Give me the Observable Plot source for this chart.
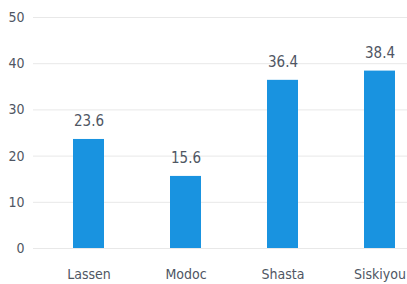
<!DOCTYPE html>
<html><head><meta charset="utf-8">
<script src="https://cdn.jsdelivr.net/npm/d3@7"></script>
<script src="https://cdn.jsdelivr.net/npm/@observablehq/plot@0.6"></script>
<style>
html,body{margin:0;padding:0;background:#fff;}
svg{font-family:"DejaVu Sans Condensed",sans-serif;}
</style>
</head><body>
<div id="chart"></div>
<script>
const counties = ["Lassen", "Modoc", "Shasta", "Siskiyou"];
const values = [23.6, 15.6, 36.4, 38.4];
const labels = ["23.6", "15.6", "36.4", "38.4"];
const yTicks = [0, 10, 20, 30, 40, 50];

const data = counties.map((c, i) => ({county: c, value: values[i], label: labels[i]}));

const chart = Plot.plot({
  width: 407,
  height: 284,
  marginTop: 17,
  marginBottom: 36,
  marginLeft: 33,
  marginRight: 0,
  style: {fontSize: "14px", color: "#4f5663", background: "#fff"},
  x: {domain: counties, range: [38.6, 429.4], paddingInner: 0.68, paddingOuter: 0.34, label: null},
  y: {domain: [0, 50], label: null},
  marks: [
    Plot.gridY(yTicks, {stroke: "#e8e8e8", strokeOpacity: 1}),
    Plot.axisY(yTicks, {tickSize: 0, tickPadding: 9, label: null, fill: "#4f5663", fontSize: 14}),
    Plot.axisX({tickSize: 0, tickPadding: 21, label: null, fill: "#4f5663", fontSize: 14}),
    Plot.barY(data, {x: "county", y: "value", fill: "#1993e0"}),
    Plot.text(data, {x: "county", y: "value", text: "label", lineAnchor: "bottom", dy: -13, fill: "#4f5663", fontSize: 15})
  ]
});
document.getElementById("chart").appendChild(chart);
</script>
</body></html>
